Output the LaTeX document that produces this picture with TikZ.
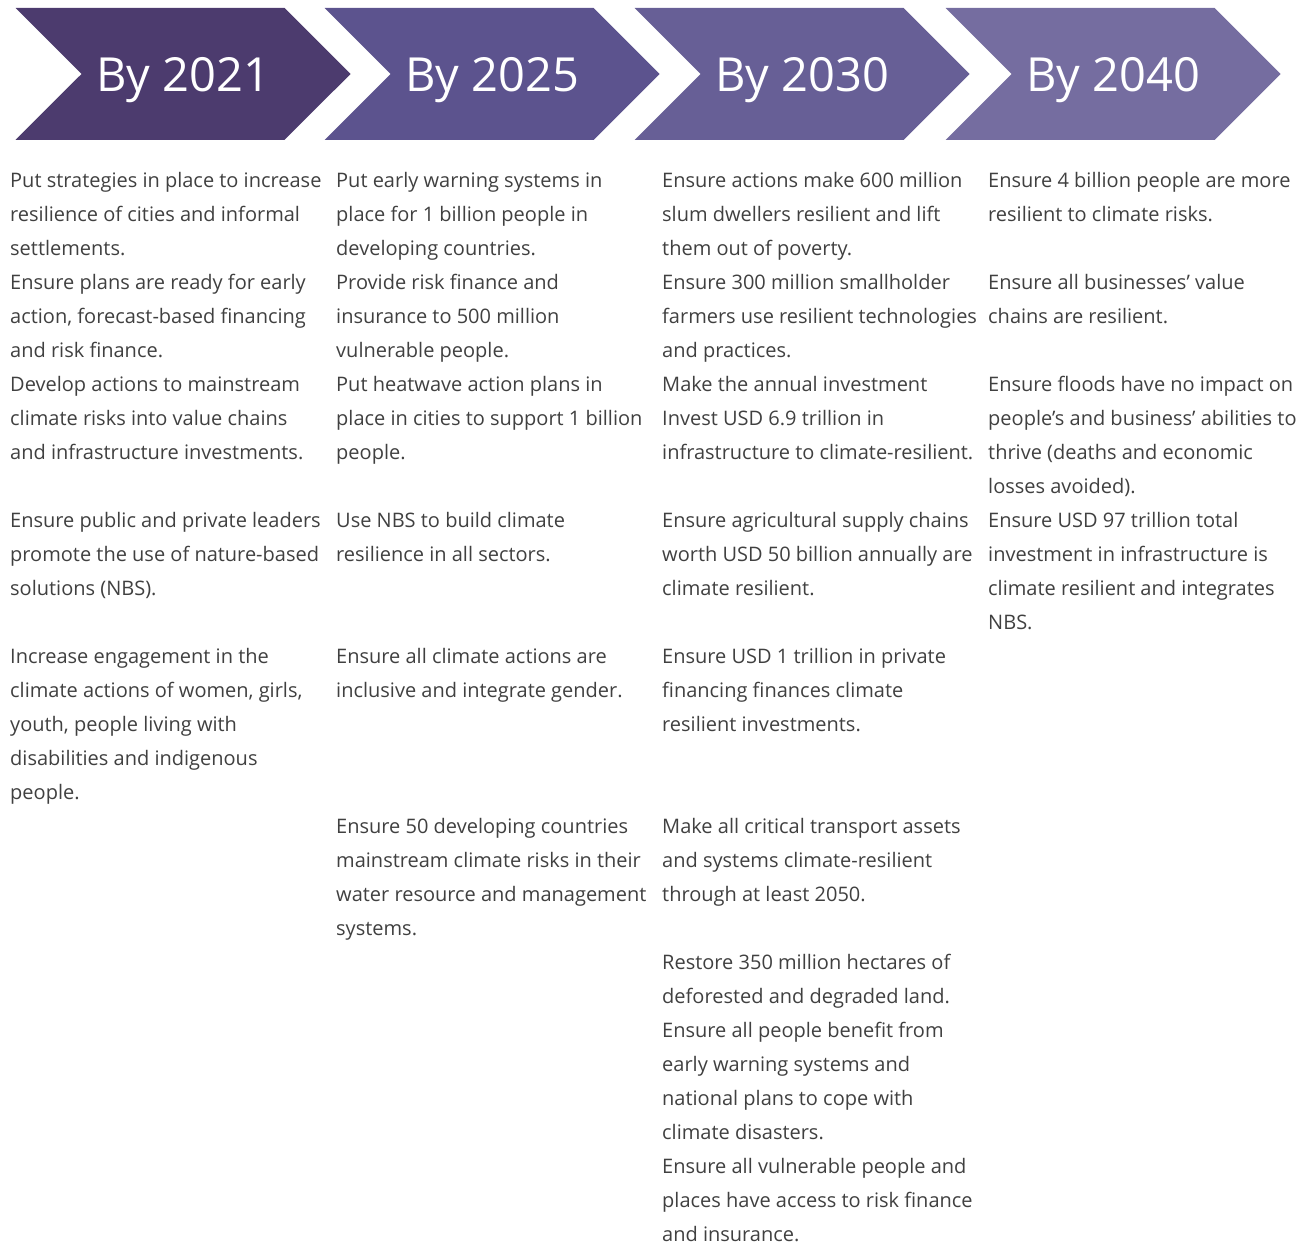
\documentclass[tikz,border=0pt]{standalone}
\usepackage{fontspec}
\setmainfont{Open Sans}
\usepackage{xcolor}
\usepackage{tikz}
\usetikzlibrary{shapes.symbols}
\definecolor{stepOne}{RGB}{76,59,110}
\definecolor{stepTwo}{RGB}{92,83,142}
\definecolor{stepThree}{RGB}{103,95,150}
\definecolor{stepFour}{RGB}{117,109,160}
\definecolor{goalText}{RGB}{64,64,64}

\begin{document}
\begin{tikzpicture}[x=1pt, y=-1pt,
    chevron/.style={signal, signal to=east, signal from=west, signal pointer angle=90,
        minimum width=335pt, minimum height=132pt, inner sep=0pt, text=white,
        text depth=0pt, font=\fontsize{47}{56}\selectfont},
    goal/.style={anchor=north west, align=left, inner sep=0pt, text=goalText,
        font=\fontsize{20}{34}\selectfont, execute at begin node={\rule{0pt}{17pt}}}]
    \useasboundingbox (0,0) rectangle (1314,1246);

    % Milestone chevrons
    \node[chevron, fill=stepOne] (y2021) at (183,74) {By 2021};
    \node[chevron, fill=stepTwo] (y2025) at (492,74) {By 2025};
    \node[chevron, fill=stepThree] (y2030) at (802,74) {By 2030};
    \node[chevron, fill=stepFour] (y2040) at (1113,74) {By 2040};

    % Goals by 2021
    \node[goal] (a1) at (10,172) {Put strategies in place to increase\\resilience of cities and informal\\settlements.};
    \node[goal] (a2) at (10,274) {Ensure plans are ready for early\\action, forecast-based financing\\and risk finance.};
    \node[goal] (a3) at (10,376) {Develop actions to mainstream\\climate risks into value chains\\and infrastructure investments.};
    \node[goal] (a4) at (10,512) {Ensure public and private leaders\\promote the use of nature-based\\solutions (NBS).};
    \node[goal] (a5) at (10,648) {Increase engagement in the\\climate actions of women, girls,\\youth, people living with\\disabilities and indigenous\\people.};

    % Goals by 2025
    \node[goal] (b1) at (336,172) {Put early warning systems in\\place for 1 billion people in\\developing countries.};
    \node[goal] (b2) at (336,274) {Provide risk finance and\\insurance to 500 million\\vulnerable people.};
    \node[goal] (b3) at (336,376) {Put heatwave action plans in\\place in cities to support 1 billion\\people.};
    \node[goal] (b4) at (336,512) {Use NBS to build climate\\resilience in all sectors.};
    \node[goal] (b5) at (336,648) {Ensure all climate actions are\\inclusive and integrate gender.};
    \node[goal] (b6) at (336,818) {Ensure 50 developing countries\\mainstream climate risks in their\\water resource and management\\systems.};

    % Goals by 2030
    \node[goal] (c1) at (662,172) {Ensure actions make 600 million\\slum dwellers resilient and lift\\them out of poverty.};
    \node[goal] (c2) at (662,274) {Ensure 300 million smallholder\\farmers use resilient technologies\\and practices.};
    \node[goal] (c3) at (662,376) {Make the annual investment\\Invest USD 6.9 trillion in\\infrastructure to climate-resilient.};
    \node[goal] (c4) at (662,512) {Ensure agricultural supply chains\\worth USD 50 billion annually are\\climate resilient.};
    \node[goal] (c5) at (662,648) {Ensure USD 1 trillion in private\\financing finances climate\\resilient investments.};
    \node[goal] (c6) at (662,818) {Make all critical transport assets\\and systems climate-resilient\\through at least 2050.};
    \node[goal] (c7) at (662,954) {Restore 350 million hectares of\\deforested and degraded land.};
    \node[goal] (c8) at (662,1022) {Ensure all people benefit from\\early warning systems and\\national plans to cope with\\climate disasters.};
    \node[goal] (c9) at (662,1158) {Ensure all vulnerable people and\\places have access to risk finance\\and insurance.};

    % Goals by 2040
    \node[goal] (d1) at (988,172) {Ensure 4 billion people are more\\resilient to climate risks.};
    \node[goal] (d2) at (988,274) {Ensure all businesses’ value\\chains are resilient.};
    \node[goal] (d3) at (988,376) {Ensure floods have no impact on\\people’s and business’ abilities to\\thrive (deaths and economic\\losses avoided).};
    \node[goal] (d4) at (988,512) {Ensure USD 97 trillion total\\investment in infrastructure is\\climate resilient and integrates\\NBS.};
\end{tikzpicture}
\end{document}
